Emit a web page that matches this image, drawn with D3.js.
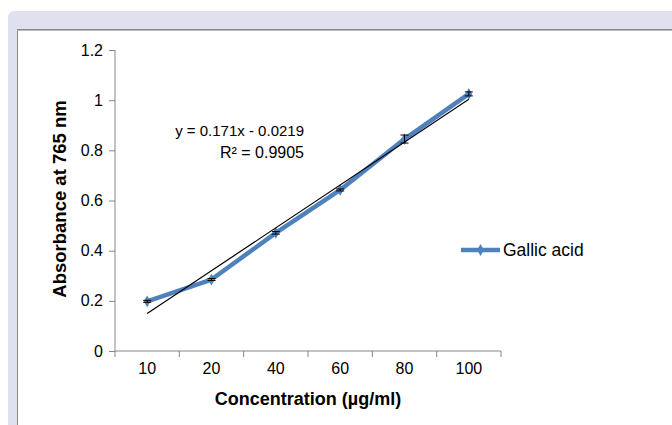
<!DOCTYPE html>
<html>
<head>
<meta charset="utf-8">
<script src="https://cdn.jsdelivr.net/npm/d3@7"></script>
<style>
  html, body { margin: 0; padding: 0; background: #ffffff; }
  svg { display: block; font-family: "Liberation Sans", Arial, sans-serif; }
</style>
</head>
<body>
<svg id="chart" width="672" height="425"></svg>
<script>
// Gallic acid calibration data
const concentrations = ["10", "20", "40", "60", "80", "100"];
const absorbance = [0.198, 0.285, 0.471, 0.642, 0.845, 1.025];
const errors = [0.004, 0.004, 0.005, 0.004, 0.016, 0.008];
const yTicks = [0, 0.2, 0.4, 0.6, 0.8, 1, 1.2];
// Linear trendline y = slope * index + intercept (index 1..n)
const slope = 0.171;
const intercept = -0.0219;
const equationText = "y = 0.171x - 0.0219";
const r2Text = "R² = 0.9905";
const seriesName = "Gallic acid";

const svg = d3.select("#chart");
const W = 672, H = 425;

// Frame: lavender band with white plot panel
svg.append("rect").attr("x", 0).attr("y", 0).attr("width", W).attr("height", H).attr("fill", "#ffffff");
svg.append("rect").attr("x", 8).attr("y", 11).attr("width", W).attr("height", H + 20)
  .attr("rx", 6).attr("fill", "#dfe1ef");
svg.append("rect").attr("x", 17.5).attr("y", 29.5).attr("width", W).attr("height", H)
  .attr("fill", "#ffffff").attr("stroke", "#8a8a8a").attr("stroke-width", 1);
svg.append("line").attr("x1", 17).attr("x2", W).attr("y1", 30.5).attr("y2", 30.5)
  .attr("stroke", "#b8b8b8").attr("stroke-width", 1);

const x = d3.scaleBand().domain(concentrations).range([115, 501]);
const y = d3.scaleLinear().domain([0, 1.2]).range([351, 50]);
const cx = d => x(d) + x.bandwidth() / 2;

// Axes
const yAxis = d3.axisLeft(y).tickValues(yTicks).tickSize(6).tickPadding(6)
  .tickFormat(d => d3.format("~g")(d));
const gy = svg.append("g").attr("transform", "translate(115,0)").call(yAxis);
const xAxis = d3.axisBottom(x).tickSize(0).tickPadding(12);
const gx = svg.append("g").attr("transform", "translate(0,351)").call(xAxis);

// Category boundary ticks on the x axis
const bounds = concentrations.map(c => x(c)).concat([x.range()[1]]);
gx.selectAll("line.bound").data(bounds).enter().append("line")
  .attr("class", "bound").attr("x1", d => d).attr("x2", d => d)
  .attr("y1", 0).attr("y2", 6).attr("stroke", "#868686");

[gy, gx].forEach(g => {
  g.attr("font-size", 16).attr("font-family", "Liberation Sans, Arial, sans-serif");
  g.selectAll(".domain").attr("stroke", "#868686").attr("stroke-width", 1);
  g.selectAll(".tick line").attr("stroke", "#868686");
  g.selectAll(".tick text").attr("fill", "#000");
});
gy.select(".domain").attr("d", "M0,351V50");
gx.select(".domain").attr("d", "M115,0H501");

// Axis titles
svg.append("text").attr("x", 308).attr("y", 405).attr("text-anchor", "middle")
  .attr("font-size", 18).attr("font-weight", "bold").text("Concentration (µg/ml)");
svg.append("text").attr("transform", "translate(66,199) rotate(-90)").attr("text-anchor", "middle")
  .attr("font-size", 18.5).attr("font-weight", "bold").text("Absorbance at 765 nm");

// Series line
const line = d3.line().x((d, i) => cx(concentrations[i])).y(d => y(d));
svg.append("path").datum(absorbance).attr("d", line)
  .attr("fill", "none").attr("stroke", "#4f81bd").attr("stroke-width", 4.5)
  .attr("stroke-linejoin", "round").attr("stroke-linecap", "round");

// Diamond markers
const diamond = d3.symbol().type(d3.symbolDiamond).size(40);
svg.selectAll("path.marker").data(absorbance).enter().append("path")
  .attr("class", "marker").attr("d", diamond)
  .attr("transform", (d, i) => `translate(${cx(concentrations[i])},${y(d)})`)
  .attr("fill", "#4f81bd");

// Error bars
const eb = svg.append("g").attr("stroke", "#000").attr("stroke-width", 1);
absorbance.forEach((v, i) => {
  const px = cx(concentrations[i]);
  const lo = y(v - errors[i]), hi = y(v + errors[i]);
  eb.append("line").attr("x1", px).attr("x2", px).attr("y1", lo).attr("y2", hi);
  eb.append("line").attr("x1", px - 4).attr("x2", px + 4).attr("y1", lo).attr("y2", lo);
  eb.append("line").attr("x1", px - 4).attr("x2", px + 4).attr("y1", hi).attr("y2", hi);
});

// Trendline
const n = concentrations.length;
svg.append("line")
  .attr("x1", cx(concentrations[0])).attr("y1", y(slope * 1 + intercept))
  .attr("x2", cx(concentrations[n - 1])).attr("y2", y(slope * n + intercept))
  .attr("stroke", "#000").attr("stroke-width", 1.2);

// Trendline label
svg.append("text").attr("x", 304).attr("y", 136).attr("text-anchor", "end")
  .attr("font-size", 15).text(equationText);
svg.append("text").attr("x", 304).attr("y", 158).attr("text-anchor", "end")
  .attr("font-size", 16).text(r2Text);

// Legend
const lg = svg.append("g").attr("transform", "translate(461,250)");
lg.append("line").attr("x1", 0).attr("x2", 39).attr("y1", 0).attr("y2", 0)
  .attr("stroke", "#4f81bd").attr("stroke-width", 4.5);
lg.append("path").attr("d", diamond).attr("transform", "translate(19.5,0)").attr("fill", "#4f81bd");
lg.append("text").attr("x", 42).attr("y", 6).attr("font-size", 17.5).text(seriesName);
</script>
</body>
</html>
